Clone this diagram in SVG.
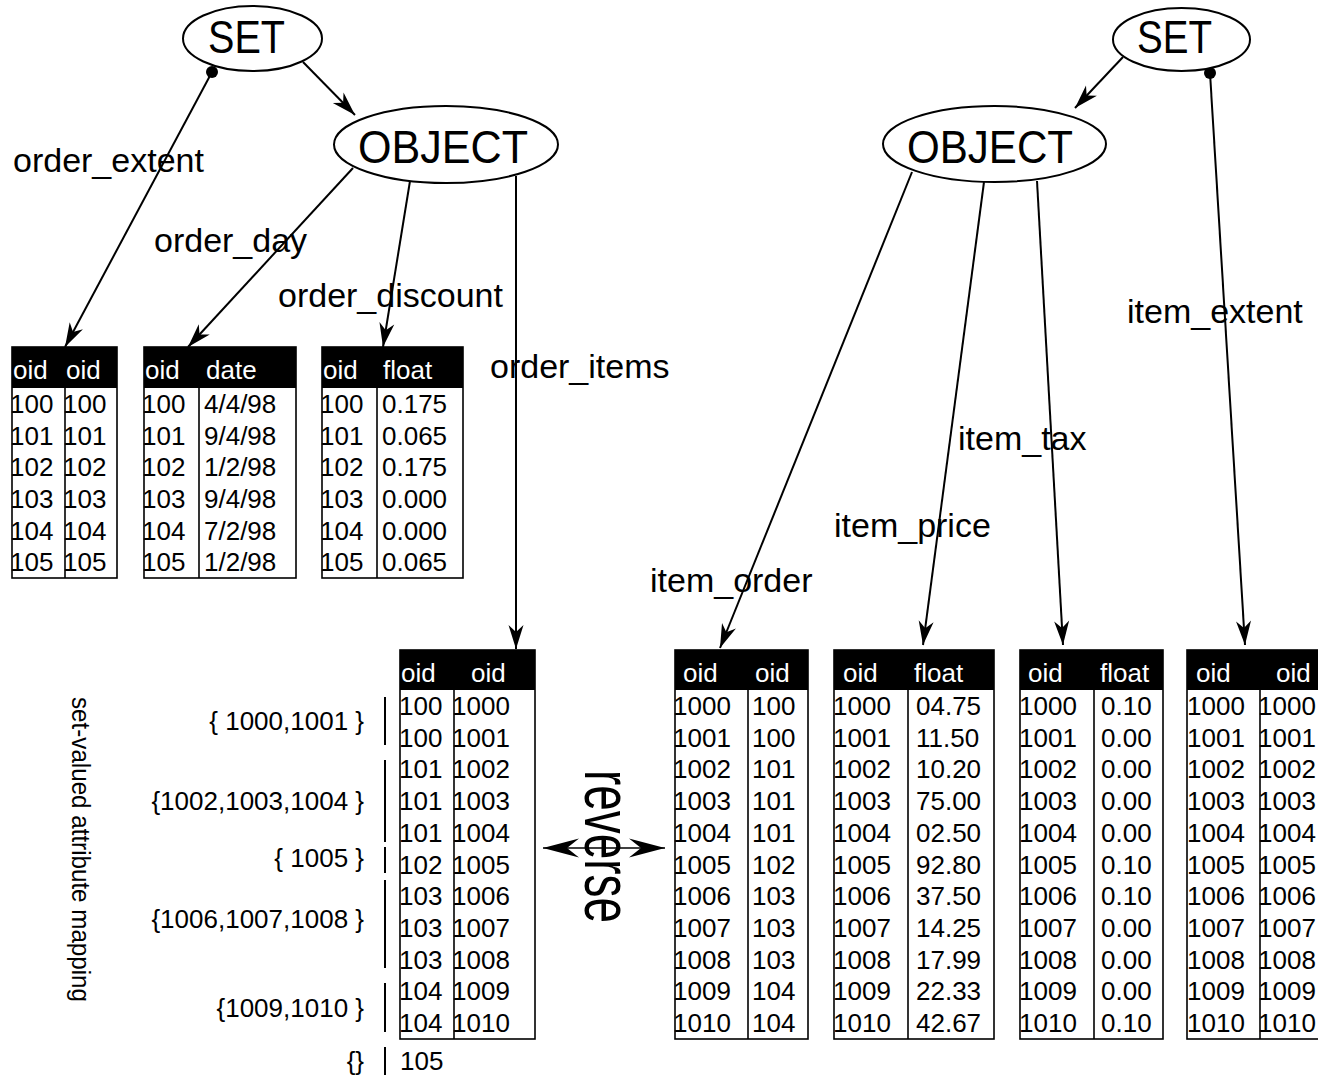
<svg xmlns="http://www.w3.org/2000/svg" width="1318" height="1075" viewBox="0 0 1318 1075">
<style>
text{font-family:"Liberation Sans",Arial,sans-serif;fill:#000}
.lbl{font-size:34px}
.node{font-size:47px}
.c{font-size:26px}
.h{font-size:26px;fill:#fff}
.set{font-size:26px}
ellipse{fill:#fff;stroke:#000;stroke-width:2}
.conn line{stroke:#000;stroke-width:2;fill:none}
.frame{fill:none;stroke:#000;stroke-width:1.6}
.hd{fill:#000}
.div{stroke:#000;stroke-width:1.6}
.bar{stroke:#000;stroke-width:2}
</style>
<defs>
<marker id="arr" markerUnits="userSpaceOnUse" viewBox="-25 -8 26 16" refX="0" refY="0" markerWidth="26" markerHeight="16" orient="auto">
<path d="M0,0 L-24,-7.5 L-17,0 L-24,7.5 Z" fill="#000"/>
</marker>
<marker id="dot" markerUnits="userSpaceOnUse" viewBox="-7 -7 14 14" refX="0" refY="0" markerWidth="14" markerHeight="14">
<circle r="6" fill="#000"/>
</marker>
<marker id="rev" markerUnits="userSpaceOnUse" viewBox="-38 -11 40 22" refX="0" refY="0" markerWidth="40" markerHeight="22" orient="auto-start-reverse">
<path d="M0,0 L-36,-9.5 L-24,0 L-36,9.5 Z" fill="#000"/>
</marker>
</defs>
<rect width="1318" height="1075" fill="#fff"/>

<g id="connectors" class="conn">
<line x1="303" y1="62" x2="355" y2="115" marker-end="url(#arr)"/>
<line x1="212" y1="72" x2="65" y2="347" marker-start="url(#dot)" marker-end="url(#arr)"/>
<line x1="353" y1="168" x2="188" y2="347" marker-end="url(#arr)"/>
<line x1="410" y1="181" x2="383" y2="347" marker-end="url(#arr)"/>
<line x1="516" y1="176" x2="516" y2="649" marker-end="url(#arr)"/>
<line x1="1123" y1="57" x2="1075" y2="108" marker-end="url(#arr)"/>
<line x1="1210" y1="73" x2="1245" y2="645" marker-start="url(#dot)" marker-end="url(#arr)"/>
<line x1="912" y1="172" x2="720" y2="648" marker-end="url(#arr)"/>
<line x1="984" y1="182" x2="923" y2="645" marker-end="url(#arr)"/>
<line x1="1037" y1="181" x2="1063" y2="645" marker-end="url(#arr)"/>
<line x1="543" y1="848" x2="665" y2="848" style="stroke-width:1.5" marker-start="url(#rev)" marker-end="url(#rev)"/>
</g>

<g id="labels">
<text class="lbl" x="13" y="172">order_extent</text>
<text class="lbl" x="154" y="252">order_day</text>
<text class="lbl" x="278" y="307">order_discount</text>
<text class="lbl" x="490" y="378">order_items</text>
<text class="lbl" x="1127" y="323">item_extent</text>
<text class="lbl" x="958" y="450">item_tax</text>
<text class="lbl" x="834" y="537">item_price</text>
<text class="lbl" x="650" y="592">item_order</text>
<text font-size="66" x="0" y="0" textLength="153" lengthAdjust="spacingAndGlyphs" transform="translate(585,770) rotate(90)">reverse</text>
<text font-size="26" x="0" y="0" textLength="305" lengthAdjust="spacingAndGlyphs" transform="translate(72,697) rotate(90)">set-valued attribute mapping</text>
</g>

<g id="set-left">
<ellipse cx="252.5" cy="38.5" rx="69.5" ry="32.5"/>
<text class="node" x="208" y="53" textLength="77" lengthAdjust="spacingAndGlyphs">SET</text>
</g>
<g id="object-left">
<ellipse cx="446" cy="144.5" rx="112" ry="38.5"/>
<text class="node" x="358" y="163" textLength="170" lengthAdjust="spacingAndGlyphs">OBJECT</text>
</g>
<g id="set-right">
<ellipse cx="1181.5" cy="39.5" rx="68.5" ry="31.5"/>
<text class="node" x="1137" y="53" textLength="75" lengthAdjust="spacingAndGlyphs">SET</text>
</g>
<g id="object-right">
<ellipse cx="994.5" cy="144" rx="111.5" ry="38"/>
<text class="node" x="907" y="163" textLength="166" lengthAdjust="spacingAndGlyphs">OBJECT</text>
</g>

<g id="tbl-order-extent">
<rect class="hd" x="12" y="347" width="105" height="41"/>
<rect class="frame" x="12" y="347" width="105" height="231"/>
<line class="div" x1="65" y1="388" x2="65" y2="578"/>
<text class="h" x="13" y="379">oid</text><text class="h" x="66" y="379">oid</text>
<text class="c" x="10" y="413">100</text><text class="c" x="63" y="413">100</text>
<text class="c" x="10" y="445">101</text><text class="c" x="63" y="445">101</text>
<text class="c" x="10" y="476">102</text><text class="c" x="63" y="476">102</text>
<text class="c" x="10" y="508">103</text><text class="c" x="63" y="508">103</text>
<text class="c" x="10" y="540">104</text><text class="c" x="63" y="540">104</text>
<text class="c" x="10" y="571">105</text><text class="c" x="63" y="571">105</text>
</g>

<g id="tbl-order-day">
<rect class="hd" x="144" y="347" width="152" height="41"/>
<rect class="frame" x="144" y="347" width="152" height="231"/>
<line class="div" x1="199" y1="388" x2="199" y2="578"/>
<text class="h" x="145" y="379">oid</text><text class="h" x="206" y="379">date</text>
<text class="c" x="142" y="413">100</text><text class="c" x="204" y="413">4/4/98</text>
<text class="c" x="142" y="445">101</text><text class="c" x="204" y="445">9/4/98</text>
<text class="c" x="142" y="476">102</text><text class="c" x="204" y="476">1/2/98</text>
<text class="c" x="142" y="508">103</text><text class="c" x="204" y="508">9/4/98</text>
<text class="c" x="142" y="540">104</text><text class="c" x="204" y="540">7/2/98</text>
<text class="c" x="142" y="571">105</text><text class="c" x="204" y="571">1/2/98</text>
</g>

<g id="tbl-order-discount">
<rect class="hd" x="322" y="347" width="141" height="41"/>
<rect class="frame" x="322" y="347" width="141" height="231"/>
<line class="div" x1="377" y1="388" x2="377" y2="578"/>
<text class="h" x="323" y="379">oid</text><text class="h" x="383" y="379">float</text>
<text class="c" x="320" y="413">100</text><text class="c" x="382" y="413">0.175</text>
<text class="c" x="320" y="445">101</text><text class="c" x="382" y="445">0.065</text>
<text class="c" x="320" y="476">102</text><text class="c" x="382" y="476">0.175</text>
<text class="c" x="320" y="508">103</text><text class="c" x="382" y="508">0.000</text>
<text class="c" x="320" y="540">104</text><text class="c" x="382" y="540">0.000</text>
<text class="c" x="320" y="571">105</text><text class="c" x="382" y="571">0.065</text>
</g>

<g id="tbl-order-items">
<rect class="hd" x="400" y="650" width="135" height="40"/>
<rect class="frame" x="400" y="650" width="135" height="389"/>
<line class="div" x1="454" y1="690" x2="454" y2="1039"/>
<text class="h" x="401" y="682">oid</text><text class="h" x="471" y="682">oid</text>
<text class="c" x="399" y="715">100</text><text class="c" x="452" y="715">1000</text>
<text class="c" x="399" y="747">100</text><text class="c" x="452" y="747">1001</text>
<text class="c" x="399" y="778">101</text><text class="c" x="452" y="778">1002</text>
<text class="c" x="399" y="810">101</text><text class="c" x="452" y="810">1003</text>
<text class="c" x="399" y="842">101</text><text class="c" x="452" y="842">1004</text>
<text class="c" x="399" y="874">102</text><text class="c" x="452" y="874">1005</text>
<text class="c" x="399" y="905">103</text><text class="c" x="452" y="905">1006</text>
<text class="c" x="399" y="937">103</text><text class="c" x="452" y="937">1007</text>
<text class="c" x="399" y="969">103</text><text class="c" x="452" y="969">1008</text>
<text class="c" x="399" y="1000">104</text><text class="c" x="452" y="1000">1009</text>
<text class="c" x="399" y="1032">104</text><text class="c" x="452" y="1032">1010</text>
<text class="c" x="400" y="1070">105</text>
</g>

<g id="set-mapping">
<line class="bar" x1="385" y1="697" x2="385" y2="745"/>
<line class="bar" x1="385" y1="760" x2="385" y2="842"/>
<line class="bar" x1="385" y1="847" x2="385" y2="873"/>
<line class="bar" x1="385" y1="880" x2="385" y2="968"/>
<line class="bar" x1="385" y1="983" x2="385" y2="1032"/>
<line class="bar" x1="385" y1="1047" x2="385" y2="1075"/>
<text class="set" x="364" y="730" text-anchor="end">{ 1000,1001 }</text>
<text class="set" x="364" y="810" text-anchor="end">{1002,1003,1004 }</text>
<text class="set" x="364" y="867" text-anchor="end">{ 1005 }</text>
<text class="set" x="364" y="928" text-anchor="end">{1006,1007,1008 }</text>
<text class="set" x="364" y="1017" text-anchor="end">{1009,1010 }</text>
<text class="set" x="364" y="1070" text-anchor="end">{}</text>
</g>

<g id="tbl-item-order">
<rect class="hd" x="675" y="650" width="133" height="40"/>
<rect class="frame" x="675" y="650" width="133" height="389"/>
<line class="div" x1="748" y1="690" x2="748" y2="1039"/>
<text class="h" x="683" y="682">oid</text><text class="h" x="755" y="682">oid</text>
<text class="c" x="673" y="715">1000</text><text class="c" x="752" y="715">100</text>
<text class="c" x="673" y="747">1001</text><text class="c" x="752" y="747">100</text>
<text class="c" x="673" y="778">1002</text><text class="c" x="752" y="778">101</text>
<text class="c" x="673" y="810">1003</text><text class="c" x="752" y="810">101</text>
<text class="c" x="673" y="842">1004</text><text class="c" x="752" y="842">101</text>
<text class="c" x="673" y="874">1005</text><text class="c" x="752" y="874">102</text>
<text class="c" x="673" y="905">1006</text><text class="c" x="752" y="905">103</text>
<text class="c" x="673" y="937">1007</text><text class="c" x="752" y="937">103</text>
<text class="c" x="673" y="969">1008</text><text class="c" x="752" y="969">103</text>
<text class="c" x="673" y="1000">1009</text><text class="c" x="752" y="1000">104</text>
<text class="c" x="673" y="1032">1010</text><text class="c" x="752" y="1032">104</text>
</g>

<g id="tbl-item-price">
<rect class="hd" x="834" y="650" width="160" height="40"/>
<rect class="frame" x="834" y="650" width="160" height="389"/>
<line class="div" x1="908" y1="690" x2="908" y2="1039"/>
<text class="h" x="843" y="682">oid</text><text class="h" x="914" y="682">float</text>
<text class="c" x="833" y="715">1000</text><text class="c" x="916" y="715">04.75</text>
<text class="c" x="833" y="747">1001</text><text class="c" x="916" y="747">11.50</text>
<text class="c" x="833" y="778">1002</text><text class="c" x="916" y="778">10.20</text>
<text class="c" x="833" y="810">1003</text><text class="c" x="916" y="810">75.00</text>
<text class="c" x="833" y="842">1004</text><text class="c" x="916" y="842">02.50</text>
<text class="c" x="833" y="874">1005</text><text class="c" x="916" y="874">92.80</text>
<text class="c" x="833" y="905">1006</text><text class="c" x="916" y="905">37.50</text>
<text class="c" x="833" y="937">1007</text><text class="c" x="916" y="937">14.25</text>
<text class="c" x="833" y="969">1008</text><text class="c" x="916" y="969">17.99</text>
<text class="c" x="833" y="1000">1009</text><text class="c" x="916" y="1000">22.33</text>
<text class="c" x="833" y="1032">1010</text><text class="c" x="916" y="1032">42.67</text>
</g>

<g id="tbl-item-tax">
<rect class="hd" x="1020" y="650" width="143" height="40"/>
<rect class="frame" x="1020" y="650" width="143" height="389"/>
<line class="div" x1="1094" y1="690" x2="1094" y2="1039"/>
<text class="h" x="1028" y="682">oid</text><text class="h" x="1100" y="682">float</text>
<text class="c" x="1019" y="715">1000</text><text class="c" x="1101" y="715">0.10</text>
<text class="c" x="1019" y="747">1001</text><text class="c" x="1101" y="747">0.00</text>
<text class="c" x="1019" y="778">1002</text><text class="c" x="1101" y="778">0.00</text>
<text class="c" x="1019" y="810">1003</text><text class="c" x="1101" y="810">0.00</text>
<text class="c" x="1019" y="842">1004</text><text class="c" x="1101" y="842">0.00</text>
<text class="c" x="1019" y="874">1005</text><text class="c" x="1101" y="874">0.10</text>
<text class="c" x="1019" y="905">1006</text><text class="c" x="1101" y="905">0.10</text>
<text class="c" x="1019" y="937">1007</text><text class="c" x="1101" y="937">0.00</text>
<text class="c" x="1019" y="969">1008</text><text class="c" x="1101" y="969">0.00</text>
<text class="c" x="1019" y="1000">1009</text><text class="c" x="1101" y="1000">0.00</text>
<text class="c" x="1019" y="1032">1010</text><text class="c" x="1101" y="1032">0.10</text>
</g>

<g id="tbl-item-extent">
<rect class="hd" x="1187" y="650" width="145" height="40"/>
<rect class="frame" x="1187" y="650" width="145" height="389"/>
<line class="div" x1="1260" y1="690" x2="1260" y2="1039"/>
<text class="h" x="1196" y="682">oid</text><text class="h" x="1276" y="682">oid</text>
<text class="c" x="1187" y="715">1000</text><text class="c" x="1258" y="715">1000</text>
<text class="c" x="1187" y="747">1001</text><text class="c" x="1258" y="747">1001</text>
<text class="c" x="1187" y="778">1002</text><text class="c" x="1258" y="778">1002</text>
<text class="c" x="1187" y="810">1003</text><text class="c" x="1258" y="810">1003</text>
<text class="c" x="1187" y="842">1004</text><text class="c" x="1258" y="842">1004</text>
<text class="c" x="1187" y="874">1005</text><text class="c" x="1258" y="874">1005</text>
<text class="c" x="1187" y="905">1006</text><text class="c" x="1258" y="905">1006</text>
<text class="c" x="1187" y="937">1007</text><text class="c" x="1258" y="937">1007</text>
<text class="c" x="1187" y="969">1008</text><text class="c" x="1258" y="969">1008</text>
<text class="c" x="1187" y="1000">1009</text><text class="c" x="1258" y="1000">1009</text>
<text class="c" x="1187" y="1032">1010</text><text class="c" x="1258" y="1032">1010</text>
</g>
</svg>
